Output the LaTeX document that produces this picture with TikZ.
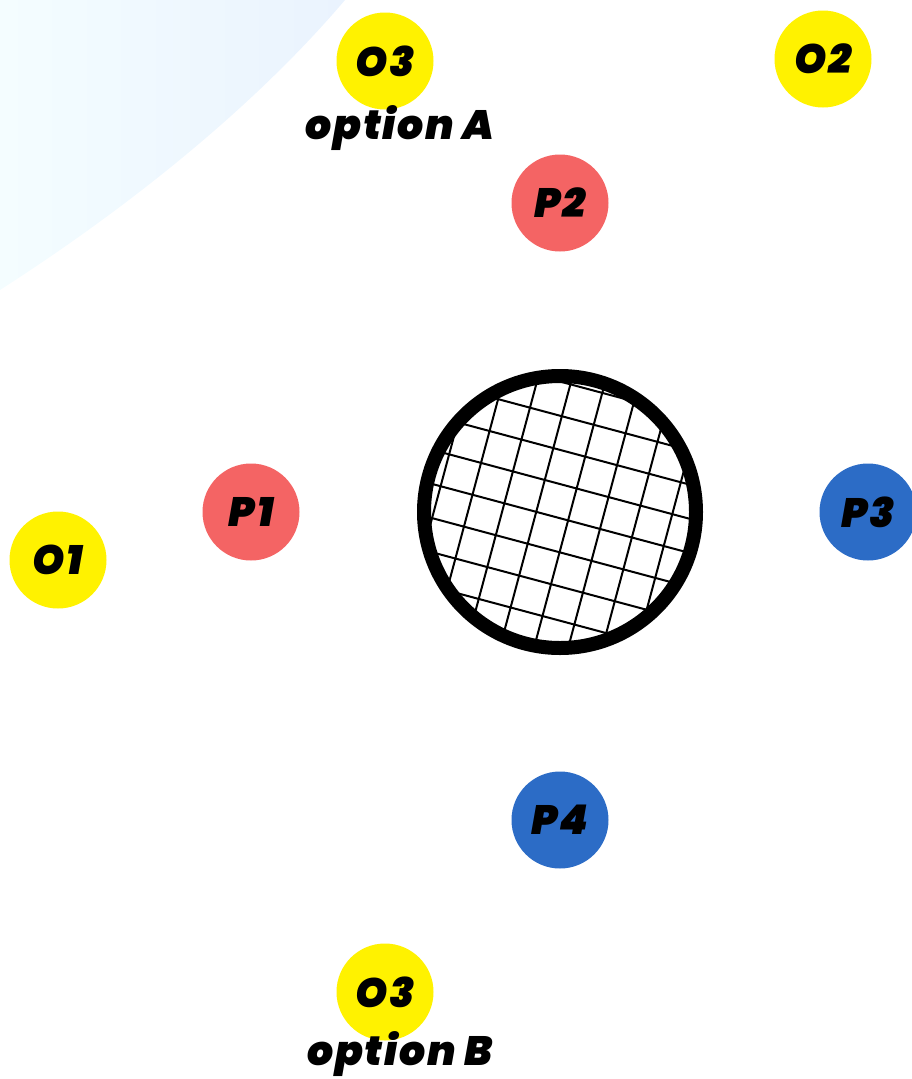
\documentclass[tikz,border=0pt]{standalone}
\usepackage{fontspec}
\setmainfont{Poppins}[BoldItalicFont={Poppins Black Italic}]
\definecolor{yel}{HTML}{FFF200}
\definecolor{redc}{HTML}{F46464}
\definecolor{bluc}{HTML}{2C6CC6}
\definecolor{gA}{HTML}{F4FDFF}
\definecolor{gB}{HTML}{EAF3FE}
\begin{document}
\begin{tikzpicture}[x=1pt,y=-1pt,
  dot/.style={circle,minimum size=97pt,inner sep=0pt,font=\fontsize{41}{41}\selectfont\bfseries\itshape\addfontfeatures{LetterSpace=5}},
  lbl/.style={font=\fontsize{41}{41}\selectfont\bfseries\itshape\addfontfeatures{LetterSpace=4},inner sep=0pt}]
\useasboundingbox (0,0) rectangle (912,1079);
\clip (0,0) rectangle (912,1079);
% background gradient corner
\shade[left color=gA,right color=gB] (0,0) -- (345,0) .. controls (260,100) and (140,200) .. (0,290) -- cycle;
% circles
\node[dot,fill=yel] (o3a) at (385,61) {O3};
\node[lbl] (optA) at (400,128) {option A};
\node[dot,fill=yel] (o2) at (823,59) {O2};
\node[dot,fill=redc] (p2) at (560,203) {P2};
\node[dot,fill=redc] (p1) at (251,512) {P1};
\node[dot,fill=yel] (o1) at (58,560) {O1};
\node[dot,fill=bluc] (p3) at (868,512) {P3};
\node[dot,fill=bluc] (p4) at (560,820) {P4};
\node[dot,fill=yel] (o3b) at (385,992) {O3};
\node[lbl] (optB) at (400,1054) {option B};
% grid circle
\coordinate (g) at (560,512);
\begin{scope}
\clip (g) circle[radius=132];
\begin{scope}[shift={(g)},rotate=-15]
\foreach \k in {-5,...,5} {
  \draw[line width=2pt] (\k*33+10,-170) -- (\k*33+10,170);
  \draw[line width=2pt] (-170,\k*33+6) -- (170,\k*33+6);
}
\end{scope}
\end{scope}
\draw[line width=14pt] (g) circle[radius=136];
\end{tikzpicture}
\end{document}
